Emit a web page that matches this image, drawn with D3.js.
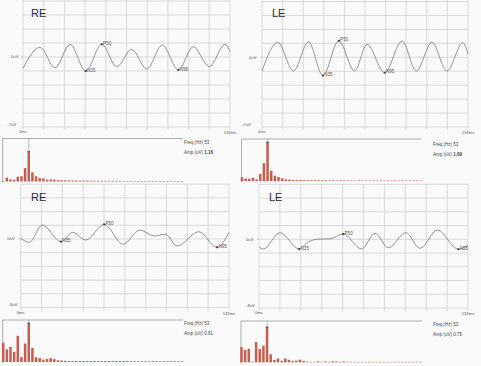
<!DOCTYPE html>
<html>
<head>
<meta charset="utf-8">
<script src="https://cdn.jsdelivr.net/npm/d3@7"></script>
<style>
  body { margin: 0; background: #fafafa; }
  svg { display: block; font-family: "Liberation Sans", Arial, sans-serif; }
</style>
</head>
<body>
<svg id="chart" width="481" height="366"></svg>
<script>
'use strict';

// waveform turning points: [ms, uV]
const waveRightTop = [[0,-1.13],[10.9,0.97],[20.6,-1.07],[30.2,1.27],[40.3,-1.4],[50.6,1.27],[60.2,-0.97],[69.8,0.77],[79.5,-1.2],[89.5,1.2],[99.8,-1.3],[109.4,1.03],[119.7,-0.97],[129.8,1.27],[133,0.53]];
const waveLeftTop = [[0,-1.37],[10.2,1.5],[20.3,-1.37],[30.0,1.56],[39.3,-1.84],[49.6,1.66],[59.7,-1.37],[67.8,1.3],[79.2,-1.54],[90.4,1.63],[99.6,-1.37],[109.7,1.5],[119.4,-1.37],[129.7,1.46],[133,0.33]];
const waveRightBottom = [[0,0.08],[5.5,-0.38],[13.8,1.63],[25.7,-0.31],[33.1,0.78],[41.6,-0.12],[53.3,1.71],[65.4,-0.62],[76.1,1.05],[85.2,0.35],[92.4,0.55],[99.9,-0.81],[113.7,0.85],[125.4,-0.97],[133,0.78]];
const waveLeftBottom = [[0,-0.86],[2.7,-1.13],[13.4,0.77],[25.6,-1.13],[31.4,-0.28],[38.8,0.03],[45.2,0.05],[53.6,0.62],[65.3,-1.13],[73.8,0.7],[82.3,-0.98],[93.4,0.77],[102.5,-1.05],[113.5,1.08],[126.9,-1.16],[133,-0.66]];

// peak markers: [label, ms]
const marksRightTop = [["N35",40.3],["P50",50.6],["N95",99.8]];
const marksLeftTop = [["N35",39.3],["P50",49.6],["N95",79.2]];
const marksRightBottom = [["N35",25.7],["P50",53.3],["N95",125.4]];
const marksLeftBottom = [["N35",25.6],["P50",53.6],["N95",126.9]];

// spectrum amplitudes (uV), one per 7.5 Hz bin starting at 0 Hz
const specRightTop = [0,0.15,0.08,0.066,0.18,0.2,0.51,1.16,0.35,0.2,0.13,0.12,0.07,0.08,0.07,0.05,0.05,0.045,0.04,0.04,0.04,0.035,0.035,0.03,0.03,0.03,0.03,0.03,0.025,0.025,0.025,0.025,0.025,0.02,0.02,0.02,0.02,0.02,0.02,0.02,0.02,0.02,0.02,0.02,0.02,0.02,0.02,0.02,0.02,0.02];
const specLeftTop = [0.16,0.1,0.1,0.14,0.07,0.3,0.77,1.69,0.43,0.23,0.17,0.12,0.07,0.06,0.045,0.04,0.04,0.035,0.035,0.03,0.03,0.03,0.03,0.03,0.025,0.025,0.025,0.025,0.025,0.02,0.02,0.02,0.02,0.02,0.02,0.02,0.02,0.02,0.02,0.02,0.02,0.02,0.02,0.02,0.02,0.02,0.02,0.02,0.02,0.02];
const specRightBottom = [0.4,0.26,0.31,0.21,0.54,0.1,0.38,0.81,0.29,0.1,0.08,0.05,0.06,0.08,0.06,0.035,0.03,0.025,0.02,0.02,0.02,0.02,0.02,0.02,0.02,0.02,0.02,0.02,0.02,0.02,0.02,0.02,0.02,0.02,0.02,0.015,0.015,0.015,0.015,0.015,0.015,0.015,0.015,0.015,0.015,0.015,0.015,0.015,0.015,0.015];
const specLeftBottom = [0.32,0.26,0.28,0.015,0.43,0.28,0.35,0.75,0.17,0.05,0.08,0.03,0.08,0.05,0.03,0.035,0.055,0.03,0.015,0.01,0.01,0.02,0.01,0.02,0.01,0.02,0.02,0.01,0.02,0.01,0.01,0.01,0.01,0.01,0.01,0.01,0.01,0.01,0.01,0.01,0.01,0.01,0.01,0.01,0.01,0.01,0.01,0.01,0.01,0.01];

const eyeLabels = ["RE", "LE", "RE", "LE"];
const peakFreqs = [53, 53, 53, 53];
const peakAmps = ["1.16", "1.69", "0.81", "0.75"];
const lowLabels = ["-7uV", "-7uV", "-8uV", "-8uV"];
const lowValues = [-7, -7, -8, -8];
const msTicks = d3.range(11).map(i => i * 13.3);
const binHz = 1000 / 133;

// layout for each of the four blocks
const layout = [
  {gx: [23, 230], g0: 57, gLow: 127, gTop: 0, lowX: 7.5, zeroX: 11, title: [31, 16.5],
   hx: 2.7, hw: 180.3, hTop: 138.5, hBase: 181.5, hMax: 1.64, tx: 184, ty: 144, bold: true},
  {gx: [262, 468], g0: 57.3, gLow: 127, gTop: 0, lowX: 242, zeroX: 249, title: [272, 16.5],
   hx: 241.5, hw: 180, hTop: 139, hBase: 181, hMax: 1.81, tx: 433, ty: 145.6, bold: true},
  {gx: [20.7, 229], g0: 239, gLow: 307.5, gTop: 184, lowX: 8.5, zeroX: 7.3, title: [31, 200.5],
   hx: 2.7, hw: 180.3, hTop: 320, hBase: 362, hMax: 0.866, tx: 184, ty: 325, bold: false},
  {gx: [259, 468], g0: 239.3, gLow: 308, gTop: 184, lowX: 246, zeroX: 246, title: [269, 200.5],
   hx: 241, hw: 181, hTop: 321, hBase: 362.3, hMax: 0.87, tx: 433, ty: 326, bold: false}
];
const waves = [waveRightTop, waveLeftTop, waveRightBottom, waveLeftBottom];
const marks = [marksRightTop, marksLeftTop, marksRightBottom, marksLeftBottom];
const specs = [specRightTop, specLeftTop, specRightBottom, specLeftBottom];

const svg = d3.select("#chart");
svg.append("rect").attr("width", 481).attr("height", 366).attr("fill", "#fafafa");

layout.forEach((p, i) => {
  const g = svg.append("g");
  const x = d3.scaleLinear().domain([0, 133]).range(p.gx);
  const y = d3.scaleLinear().domain([lowValues[i], 0]).range([p.gLow, p.g0]);
  const uvStep = -lowValues[i] / 5;
  const uvTicks = d3.range(11).map(k => lowValues[i] + k * uvStep).filter(v => y(v) >= p.gTop - 0.5);

  // grid
  g.selectAll(".vg").data(msTicks).join("line")
    .attr("x1", d => x(d)).attr("x2", d => x(d))
    .attr("y1", p.gTop).attr("y2", p.gLow + 3)
    .attr("stroke", "#cbcbcb").attr("stroke-width", 0.7);
  g.selectAll(".hg").data(uvTicks).join("line")
    .attr("x1", p.gx[0]).attr("x2", p.gx[1])
    .attr("y1", d => y(d)).attr("y2", d => y(d))
    .attr("stroke", "#cbcbcb").attr("stroke-width", 0.7);
  g.append("line")
    .attr("x1", p.gx[0] - 2).attr("x2", p.gx[0])
    .attr("y1", y(0)).attr("y2", y(0))
    .attr("stroke", "#888").attr("stroke-width", 0.5);

  // axis texts
  const small = (tx, ty, s, anchor) => g.append("text")
    .attr("x", tx).attr("y", ty).attr("text-anchor", anchor || "start")
    .attr("font-size", 4.2).attr("fill", "#555").text(s);
  small(p.zeroX, y(0) + 1.4, "0uV");
  small(p.lowX, p.gLow - 1.5, lowLabels[i]);
  small(x(0), p.gLow + 6, "0ms", "middle");
  small(x(133), p.gLow + 7.2, "133ms", "middle");

  g.append("text")
    .attr("x", p.title[0]).attr("y", p.title[1])
    .attr("font-size", 11).attr("fill", "#2a2a2a").text(eyeLabels[i]);

  // trace
  const line = d3.line().x(d => x(d[0])).y(d => y(d[1])).curve(d3.curveMonotoneX);
  g.append("path").datum(waves[i]).attr("d", line)
    .attr("fill", "none").attr("stroke", "#727272").attr("stroke-width", 0.75);

  // peak markers
  const markPts = marks[i].map(m => {
    const pt = waves[i].find(d => d[0] === m[1]);
    return {name: m[0], t: pt[0], v: pt[1]};
  });
  g.selectAll(".mk").data(markPts).join("rect")
    .attr("x", d => x(d.t) - 0.9).attr("y", d => y(d.v) - 0.9)
    .attr("width", 1.8).attr("height", 1.8).attr("fill", "#333");
  g.selectAll(".ml").data(markPts).join("text")
    .attr("x", d => x(d.t) + 1.3).attr("y", d => y(d.v) + 0.6)
    .attr("font-size", 4.6).attr("fill", "#555").text(d => d.name);

  // spectrum
  const spec = specs[i];
  const fx = d3.scaleLinear().domain([0, binHz]).range([p.hx + 0.5, p.hx + 0.5 + 3.65]);
  const fy = d3.scaleLinear().domain([0, p.hMax]).range([p.hBase, p.hTop]);
  const peakIdx = d3.maxIndex(spec);
  g.append("path")
    .attr("d", `M${p.hx + p.hw},${p.hTop}H${p.hx}V${p.hBase + 1}`)
    .attr("fill", "none").attr("stroke", "#8a8a8a").attr("stroke-width", 0.7);
  g.append("line")
    .attr("x1", fx(peakIdx * binHz)).attr("x2", fx(peakIdx * binHz))
    .attr("y1", p.hTop).attr("y2", p.hBase)
    .attr("stroke", "#8498bb").attr("stroke-width", 0.6);
  g.selectAll(".bar").data(spec).join("rect")
    .attr("x", (d, k) => fx(k * binHz) - 1.25)
    .attr("y", d => fy(d))
    .attr("width", 2.5)
    .attr("height", d => Math.max(0.5, p.hBase - fy(d)))
    .attr("fill", "#c65e50");
  g.append("rect")
    .attr("x", fx(peakIdx * binHz) - 1.25).attr("y", fy(spec[peakIdx]))
    .attr("width", 2.5).attr("height", 1.2).attr("fill", "#4a6088");

  g.append("text").attr("x", p.tx).attr("y", p.ty)
    .attr("font-size", 4.5).attr("fill", "#444").text(`Freq (Hz) ${peakFreqs[i]}`);
  const amp = g.append("text").attr("x", p.tx).attr("y", p.ty + 10)
    .attr("font-size", 4.5).attr("fill", "#444").text("Amp (uV) ");
  amp.append("tspan").attr("font-weight", p.bold ? "bold" : "normal").text(peakAmps[i]);
});
</script>
</body>
</html>
